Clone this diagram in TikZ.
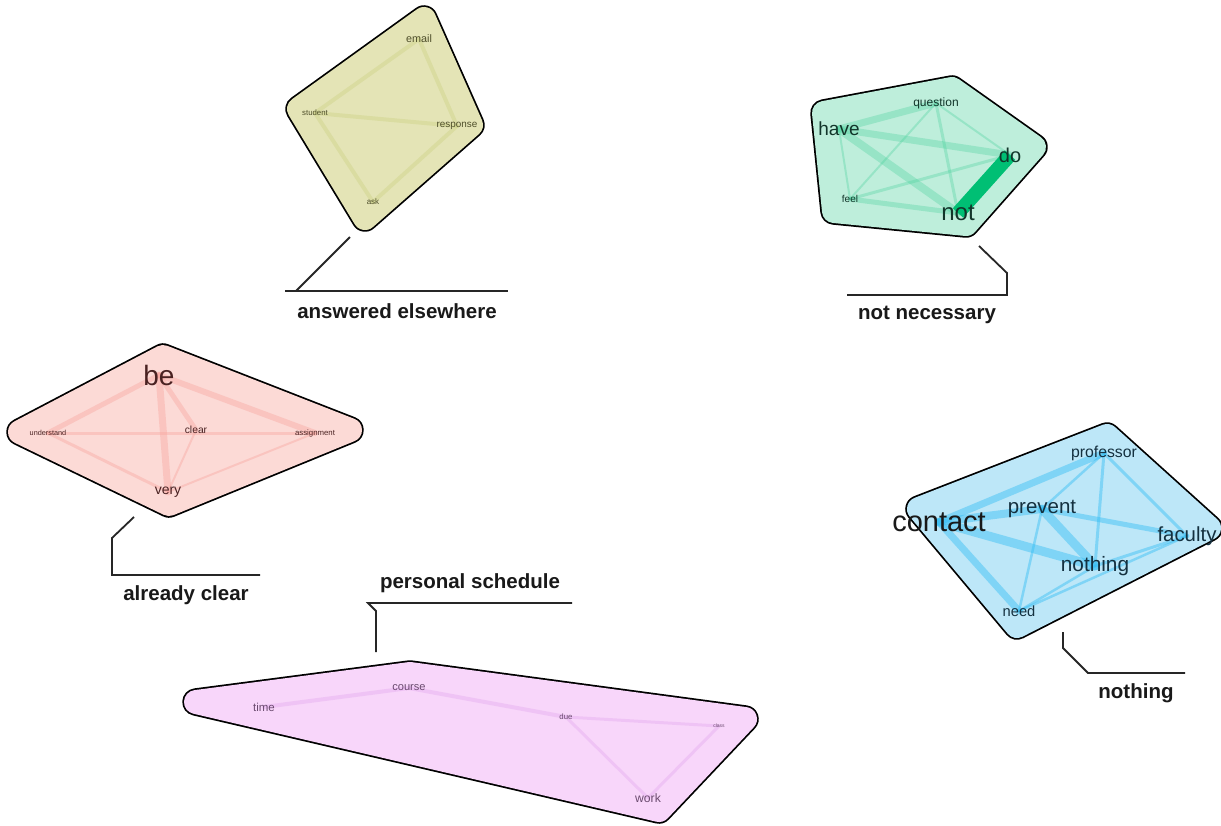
\documentclass[tikz,border=0pt]{standalone}
\usepackage{fontspec}
\setmainfont{Liberation Sans}
\pgfdeclarelayer{paper}
\pgfdeclarelayer{hulls}
\pgfdeclarelayer{links}
\pgfsetlayers{paper,hulls,links,main}
\definecolor{olivefill}{HTML}{E4E4B6}
\definecolor{oliveedge}{HTML}{D2D690}
\definecolor{oliveword}{HTML}{4E4E2A}
\definecolor{greenfill}{HTML}{BEEEDB}
\definecolor{greenedge}{HTML}{4FD3A0}
\definecolor{greendark}{HTML}{00BF74}
\definecolor{greenword}{HTML}{12352A}
\definecolor{redfill}{HTML}{FCDAD6}
\definecolor{rededge}{HTML}{F8A49E}
\definecolor{redword}{HTML}{4A2222}
\definecolor{bluefill}{HTML}{BDE7F8}
\definecolor{blueedge}{HTML}{35BEF4}
\definecolor{blueword}{HTML}{14303F}
\definecolor{purplefill}{HTML}{F8D6FA}
\definecolor{purpleedge}{HTML}{ECBCF3}
\definecolor{purpleword}{HTML}{6A4A6E}
\newcommand\drawhull[2]{%
  \begin{pgfonlayer}{hulls}
  \draw[line width=27.5pt,line join=round,draw=black] #2 -- cycle;
  \filldraw[line width=24pt,line join=round,draw=#1,fill=#1] #2 -- cycle;
  \end{pgfonlayer}}
\tikzset{
  word/.style={inner sep=0pt,font=\fontsize{#1}{#1}\selectfont},
  lk/.style={line width=#1,line cap=round},
  lab/.style={inner sep=0pt,font=\fontsize{20.5}{24}\selectfont\bfseries,text=black!90},
  leader/.style={line width=1.8pt,draw=black!85}
}
\begin{document}
\begin{tikzpicture}[x=1pt,y=-1pt]
\useasboundingbox (0,0) rectangle (1221,825);
\begin{pgfonlayer}{paper}
\fill[white] (0,0) rectangle (1221,825);
\end{pgfonlayer}

% ---------- hulls ----------
\drawhull{olivefill}{(424,19) -- (471,125) -- (365,218) -- (299,109)}
\drawhull{greenfill}{(824,113) -- (952,89) -- (1034,147) -- (966,224) -- (834,211)}
\drawhull{redfill}{(163,357) -- (350,430) -- (169,504) -- (20,432)}
\drawhull{bluefill}{(1107,436) -- (1209,528) -- (1017,626) -- (919,509)}
\drawhull{purplefill}{(196,702) -- (410,674) -- (745,719) -- (659,810)}

% ---------- olive cluster ----------
\node[word=10.8,text=oliveword] (em) at (419,39) {email};
\node[word=7.8,text=oliveword] (st) at (315,113) {student};
\node[word=9.9,text=oliveword] (re) at (457,126) {response};
\node[word=8,text=oliveword] (as) at (373,202) {ask};
\begin{pgfonlayer}{links}
\begin{scope}[draw=oliveedge,opacity=.55]
\draw[lk=4pt] (st.center) -- (em.center);
\draw[lk=4pt] (em.center) -- (re.center);
\draw[lk=4pt] (st.center) -- (re.center);
\draw[lk=4pt] (st.center) -- (as.center);
\draw[lk=4pt] (as.center) -- (re.center);
\end{scope}
\end{pgfonlayer}

% ---------- green cluster ----------
\node[word=12,text=greenword] (qu) at (936,103) {question};
\node[word=19,text=greenword] (ha) at (839,129) {have};
\node[word=20,text=greenword] (dd) at (1010,155) {do};
\node[word=10,text=greenword] (fe) at (850,199) {feel};
\node[word=24,text=greenword] (nt) at (958,213) {not};
\begin{pgfonlayer}{links}
\begin{scope}[draw=greenedge,opacity=.35]
\draw[lk=7pt] (ha.center) -- (qu.center);
\draw[lk=7pt] (ha.center) -- (dd.center);
\draw[lk=8pt] (ha.center) -- (nt.center);
\draw[lk=2pt] (ha.center) -- (fe.center);
\draw[lk=2pt] (qu.center) -- (dd.center);
\draw[lk=3pt] (qu.center) -- (nt.center);
\draw[lk=2pt] (qu.center) -- (fe.center);
\draw[lk=3pt] (fe.center) -- (dd.center);
\draw[lk=5pt] (fe.center) -- (nt.center);
\end{scope}
\draw[lk=14pt,draw=greendark,line cap=butt] (dd.center) -- (nt.center);
\end{pgfonlayer}

% ---------- red cluster ----------
\node[word=28,text=redword] (be) at (159,375) {be};
\node[word=7.3,text=redword] (un) at (48,433) {understand};
\node[word=10.3,text=redword] (cl) at (196,430) {clear};
\node[word=7.8,text=redword] (asg) at (315,433) {assignment};
\node[word=14,text=redword] (ve) at (168,492) {very};
\begin{pgfonlayer}{links}
\begin{scope}[draw=rededge,opacity=.4]
\draw[lk=7pt] (be.center) -- (ve.center);
\draw[lk=6pt] (be.center) -- (asg.center);
\draw[lk=5pt] (be.center) -- (un.center);
\draw[lk=5pt] (be.center) -- (cl.center);
\draw[lk=3pt] (un.center) -- (asg.center);
\draw[lk=3pt] (un.center) -- (ve.center);
\draw[lk=2pt] (cl.center) -- (ve.center);
\draw[lk=2pt] (ve.center) -- (asg.center);
\end{scope}
\end{pgfonlayer}

% ---------- blue cluster ----------
\node[word=15.8,text=blueword] (pr) at (1104,453) {professor};
\node[word=29,text=black!90] (co) at (939,522) {contact};
\node[word=20.5,text=blueword] (pv) at (1042,509) {prevent};
\node[word=20.4,text=blueword] (fa) at (1187,536) {faculty};
\node[word=20.8,text=blueword] (no) at (1095,566) {nothing};
\node[word=14.7,text=blueword] (ne) at (1019,611) {need};
\begin{pgfonlayer}{links}
\begin{scope}[draw=blueedge,opacity=.45]
\draw[lk=7pt] (co.center) -- (pr.center);
\draw[lk=8pt] (co.center) -- (pv.center);
\draw[lk=9pt] (co.center) -- (no.center);
\draw[lk=7pt] (co.center) -- (ne.center);
\draw[lk=9pt] (pv.center) -- (no.center);
\draw[lk=5pt] (pv.center) -- (fa.center);
\draw[lk=3pt] (pr.center) -- (no.center);
\draw[lk=3pt] (pr.center) -- (fa.center);
\draw[lk=2.5pt] (pr.center) -- (pv.center);
\draw[lk=2.5pt] (pv.center) -- (ne.center);
\draw[lk=3pt] (no.center) -- (fa.center);
\draw[lk=2.5pt] (ne.center) -- (fa.center);
\draw[lk=2.5pt] (ne.center) -- (no.center);
\end{scope}
\end{pgfonlayer}

% ---------- purple cluster ----------
\node[word=11.5,text=purpleword] (ti) at (264,707) {time};
\node[word=11.1,text=purpleword] (cs) at (409,688) {course};
\node[word=7.8,text=purpleword] (du) at (566,717) {due};
\node[word=5,text=purpleword] (cla) at (719,726) {class};
\node[word=12.2,text=purpleword] (wo) at (648,798) {work};
\begin{pgfonlayer}{links}
\begin{scope}[draw=purpleedge,opacity=.7]
\draw[lk=4pt] (ti.center) -- (cs.center);
\draw[lk=4pt] (cs.center) -- (du.center);
\draw[lk=3pt] (du.center) -- (cla.center);
\draw[lk=3pt] (du.center) -- (wo.center);
\draw[lk=3pt] (cla.center) -- (wo.center);
\end{scope}
\end{pgfonlayer}

% ---------- labels and leaders ----------
\node[lab] (lA) at (397,311) {answered elsewhere};
\coordinate (lA1) at (350,237);
\coordinate (lA2) at (296,291);
\coordinate (lA0) at (285,291);
\coordinate (lA3) at (508,291);
\draw[leader] (lA1) -- (lA2);
\draw[leader] (lA0) -- (lA3);

\node[lab] (lB) at (927,315) {not necessary};
\coordinate (lB1) at (979,246);
\coordinate (lB2) at (1007,273);
\coordinate (lB3) at (1007,295);
\coordinate (lB4) at (847,295);
\draw[leader] (lB1) -- (lB2) -- (lB3) -- (lB4);

\node[lab] (lC) at (186,595) {already clear};
\coordinate (lC1) at (134,517);
\coordinate (lC2) at (112,538);
\coordinate (lC3) at (112,575);
\coordinate (lC4) at (260,575);
\draw[leader] (lC1) -- (lC2) -- (lC3) -- (lC4);

\node[lab] (lD) at (470,583) {personal schedule};
\coordinate (lD1) at (376,652);
\coordinate (lD2) at (376,611);
\coordinate (lD3) at (368,603);
\coordinate (lD4) at (572,603);
\draw[leader] (lD1) -- (lD2) -- (lD3) -- (lD4);

\node[lab] (lE) at (1136,693) {nothing};
\coordinate (lE1) at (1063,632);
\coordinate (lE2) at (1063,648);
\coordinate (lE3) at (1088,673);
\coordinate (lE4) at (1185,673);
\draw[leader] (lE1) -- (lE2) -- (lE3) -- (lE4);
\end{tikzpicture}
\end{document}
